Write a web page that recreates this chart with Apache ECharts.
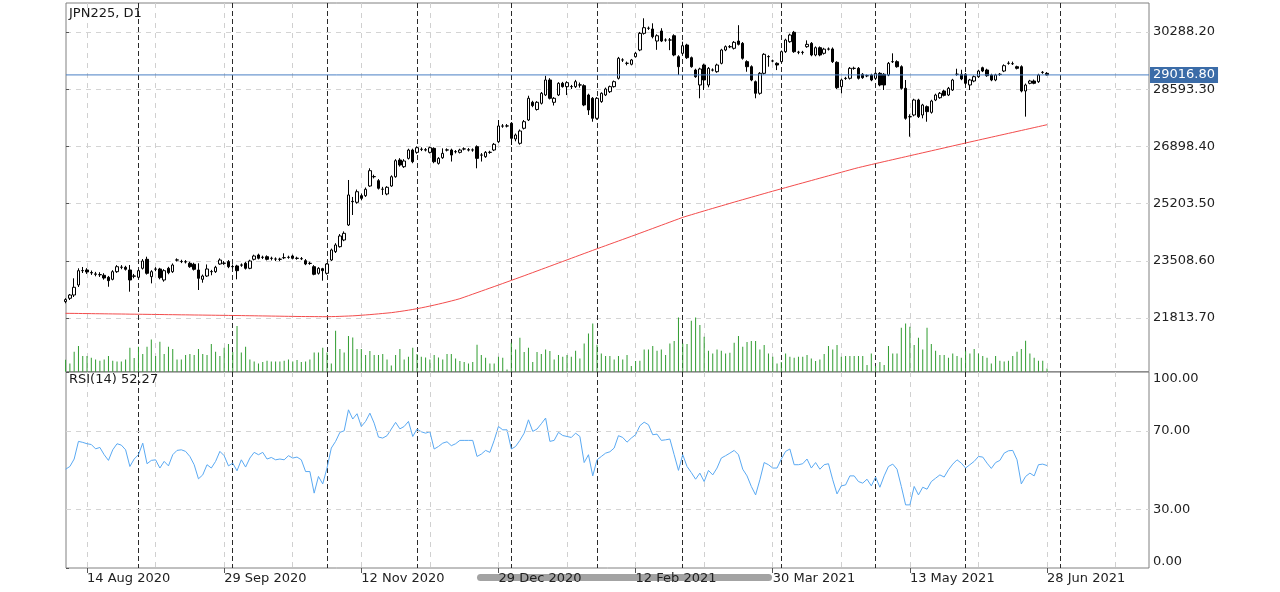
<!DOCTYPE html>
<html><head><meta charset="utf-8">
<script src="https://cdn.jsdelivr.net/npm/echarts@6/dist/echarts.min.js"></script>
<style>html,body{margin:0;padding:0;background:#fff}#c{width:1280px;height:592px}</style>
</head><body><div id="c"></div>
<script>
const symbolName = 'JPN225';
const timeframe = 'D1';
const startDate = '2020-08-07';
const endDate = '2021-07-29';
const closedDays = ['2020-12-25', '2021-01-01'];
const monthNames = ['Jan','Feb','Mar','Apr','May','Jun','Jul','Aug','Sep','Oct','Nov','Dec'];

// [open, close, low, high]
const ohlc = [
[22300,22360,22250,22400],[22398,22495,22347,22525],[22495,22724,22436,22990],[22792,23216,22732,23286],[23216,23220,23147,23325],
[23236,23177,23120,23290],[23160,23150,23090,23220],[23120,23110,23050,23180],[23100,23095,23030,23170],[23079,22999,22950,23140],
[23020,22920,22740,23060],[22960,23186,22930,23230],[23186,23334,23150,23380],[23320,23316,23260,23380],[23316,23257,23220,23360],
[23236,22940,22593,23384],[23050,23060,22990,23120],[23020,23216,22990,23260],[23286,23503,23250,23560],[23553,23138,23100,23630],
[23038,23186,22840,23230],[23260,23265,23200,23320],[23266,23008,22960,23300],[22940,23216,22890,23260],[23286,23156,23110,23330],
[23186,23384,23150,23430],[23530,23535,23490,23580],[23490,23485,23440,23540],[23480,23475,23430,23530],[23435,23334,23300,23480],
[23405,23257,23220,23450],[23236,22990,22643,23435],[22960,23058,22860,23100],[23058,23266,23030,23400],[23190,23186,23080,23240],
[23186,23316,23150,23360],[23414,23532,23390,23580],[23440,23435,23390,23500],[23484,23334,23290,23530],[23340,23334,23280,23400],
[23355,23216,22960,23390],[23380,23385,23330,23430],[23435,23286,23250,23480],[23286,23503,23260,23540],[23553,23651,23520,23690],
[23680,23583,23550,23720],[23610,23613,23560,23660],[23630,23553,23520,23670],[23580,23583,23520,23630],[23560,23562,23500,23610],
[23555,23553,23500,23600],[23600,23602,23560,23730],[23610,23613,23570,23660],[23651,23583,23550,23690],[23585,23580,23540,23630],
[23570,23573,23530,23620],[23513,23414,23380,23560],[23430,23435,23390,23480],[23334,23109,23080,23380],[23138,23286,23100,23320],
[23275,23216,22920,23300],[23138,23414,23100,23440],[23532,23829,23500,23870],[23780,23977,23740,24030],[23927,24244,23900,24300],
[24125,24323,24090,24380],[24570,25459,24540,25903],[25270,25260,24866,25400],[25242,25556,25200,25620],[25438,25360,25300,25500],
[25438,25628,25400,25680],[25725,26179,25700,26250],[26000,26005,25950,26060],[25882,25657,25620,25930],[25630,25628,25460,25700],
[25488,25687,25450,25720],[25725,26000,25700,26040],[26000,26475,25970,26520],[26495,26347,26300,26550],[26297,26466,26260,26520],
[26544,26790,26510,26830],[26790,26445,26400,26830],[26722,26860,26680,26900],[26810,26815,26760,26870],[26800,26790,26750,26850],
[26722,26860,26690,26890],[26840,26445,26400,26870],[26396,26544,26360,26580],[26563,26692,26530,26840],[26790,26795,26750,26840],
[26790,26643,26450,26830],[26740,26745,26690,26790],[26722,26790,26690,26830],[26820,26825,26780,26870],[26800,26790,26750,26850],
[26790,26795,26740,26840],[26890,26544,26250,26930],[26640,26643,26450,26700],[26594,26722,26560,26760],[26720,26725,26680,26770],
[26792,26960,26760,27000],[27038,27503,27000,27680],[27500,27503,27450,27560],[27503,27505,27460,27560],[27583,27138,26940,27620],
[27118,27236,27050,27280],[26990,27355,26950,27400],[27435,27631,27400,27680],[27681,28324,27650,28400],[28205,28107,28060,28250],
[27993,28205,27960,28240],[28176,28472,28140,28510],[28422,28866,28390,28990],[28866,28324,28290,28920],[28205,28324,28110,28360],
[28422,28768,28390,28800],[28768,28669,28640,28810],[28669,28787,28420,28830],[28670,28672,28600,28720],[28669,28816,28630,28870],
[28720,28718,28640,28790],[28698,28126,28090,28740],[28421,27977,27830,28460],[28324,27731,27630,28360],[27731,28324,27690,28360],
[28225,28472,28190,28500],[28422,28599,28390,28640],[28520,28669,28480,28700],[28669,28816,28640,28850],[28916,29509,28880,29550],
[29460,29459,29400,29510],[29360,29361,29300,29410],[29332,29459,29300,29490],[29557,29656,29530,29700],[29755,30248,29720,30290],
[30248,30416,30210,30694],[30398,30400,30350,30450],[30377,30149,30100,30546],[30021,30178,29760,30220],[30318,30021,29990,30400],
[30050,30051,30000,30100],[30050,30051,29750,30110],[30178,29607,29570,30220],[29557,29260,29014,29600],[29657,29882,29620,30000],
[29903,29527,29490,29940],[29527,29260,29230,29560],[29162,28964,28930,29200],[28718,29192,28324,29230],[29310,28866,28570,29350],
[28718,29212,28650,29250],[29160,29162,29120,29210],[29112,29310,29080,29350],[29360,29755,29330,29790],[29755,29853,29720,29890],
[29850,29853,29810,29900],[29805,29982,29770,30020],[30021,29922,29890,30490],[29952,29509,29470,29990],[29410,29260,29110,29450],
[29260,28866,28830,29300],[28816,28472,28324,28850],[28472,29064,28430,29100],[29064,29627,29030,29660],[29560,29557,29260,29600],
[29430,29429,29390,29470],[29360,29310,29160,29390],[29409,29705,29380,29740],[29705,30051,29670,30090],[30001,30199,29970,30240],
[30279,29705,29670,30320],[29690,29687,29630,29730],[29680,29687,29620,29730],[29853,29922,29820,30040],[29952,29607,29570,29990],
[29607,29823,29570,29860],[29823,29607,29570,29860],[29657,29780,29620,29820],[29780,29785,29740,29830],[29785,29409,29370,29830],
[29390,28638,28600,29420],[28668,28866,28472,28910],[28910,28916,28870,28960],[28916,29212,28880,29250],[29210,29212,29170,29260],
[29212,28916,28880,29250],[29035,28935,28900,29070],[28990,28994,28950,29030],[29014,28866,28830,29050],[28916,29064,28880,29100],
[29064,28718,28680,29100],[29035,28718,28570,29070],[29014,29360,28980,29400],[29410,29409,29370,29656],[29409,29260,29230,29450],
[29260,28620,28580,29300],[28620,27731,27690,28866],[27780,27777,27186,27850],[27829,28273,27790,28310],[28273,27780,27740,28310],
[27829,28126,27730,28160],[28076,27928,27630,28110],[27908,28243,27870,28280],[28273,28421,28240,28460],[28341,28472,28310,28510],
[28540,28412,28380,28580],[28421,28620,28390,28660],[28570,28866,28540,28900],[29035,29036,28990,29200],[29035,28896,28860,29170],
[29035,28768,28720,29070],[28718,28866,28570,28900],[28836,28964,28800,29000],[28964,29132,28930,29170],[29230,29132,29100,29260],
[29162,28994,28960,29200],[29014,28866,28830,29050],[28866,29014,28830,29050],[29030,29036,28990,29070],[29132,29290,29100,29330],
[29360,29361,29320,29420],[29350,29349,29310,29410],[29260,29212,29180,29290],[29260,28540,28500,29300],[28540,28718,27780,28760],
[28768,28836,28740,28870],[28836,28768,28740,28880],[28816,29014,28780,29050],[29090,29093,29050,29130],[29064,29016.8,29000,29100]
];

const sma200 = [
21953,21951,21950,21948,21946,21945,21943,21941,21940,21938,21936,21935,21933,21932,21930,21928,21927,21925,21923,21922,
21920,21918,21917,21915,21913,21912,21910,21908,21907,21905,21903,21902,21900,21898,21897,21895,21893,21892,21890,21888,
21887,21885,21883,21881,21879,21877,21875,21873,21871,21869,21867,21865,21863,21861,21859,21858,21857,21856,21855,21854,
21853,21853,21855,21858,21862,21867,21872,21878,21885,21895,21904,21914,21925,21936,21948,21960,21972,21989,22007,22026,
22046,22067,22090,22115,22141,22168,22196,22225,22255,22286,22318,22351,22386,22430,22475,22520,22565,22610,22655,22700,
22745,22790,22836,22882,22928,22974,23020,23066,23113,23160,23207,23254,23301,23348,23395,23442,23489,23536,23583,23630,
23677,23724,23771,23818,23865,23911,23957,24003,24049,24095,24141,24187,24233,24279,24326,24373,24420,24467,24514,24561,
24608,24655,24702,24749,24796,24835,24873,24911,24949,24987,25025,25062,25099,25136,25173,25210,25247,25284,25320,25356,
25392,25428,25464,25500,25536,25572,25607,25642,25677,25712,25747,25782,25817,25852,25887,25922,25957,25992,26027,26062,
26097,26132,26167,26202,26237,26270,26300,26330,26360,26390,26419,26448,26477,26506,26535,26564,26593,26622,26651,26680,
26709,26738,26767,26796,26825,26854,26883,26912,26941,26970,26999,27028,27057,27085,27114,27142,27171,27199,27228,27256,
27285,27313,27342,27370,27399,27427,27456,27484,27513,27541
];

const volumes = [
1200,830,2000,2570,1570,1570,1400,1230,1100,1230,1570,1100,1030,1030,1230,2400,1370,2500,1770,2500,
3230,1570,3000,1770,2500,2270,1230,1230,1670,1770,1670,2270,1770,1670,2770,2000,1570,2400,2770,1970,
4570,1930,2500,1230,1030,830,970,1100,1030,1030,1030,1100,1230,1030,1170,970,1030,1230,1930,1930,
2400,1930,830,4100,2270,1930,3570,3430,2270,2270,1670,2070,1670,1670,1770,1230,630,1670,2270,1230,
1500,2400,1770,1500,1430,1230,1670,1430,1230,1770,1770,1330,1070,970,830,970,2700,1670,1400,830,
830,1500,1400,230,2900,2230,3400,1970,2400,970,1970,1770,2230,2070,1230,1670,1500,1670,1500,2100,
1330,2830,3830,4830,2700,1830,1570,1570,1230,1570,1230,1670,570,1070,1100,2230,2230,2570,2100,2230,
1670,2830,3070,5430,2830,2770,5100,5430,4670,3500,2100,1830,2230,2100,1830,1900,2900,3570,2500,2970,
3070,3070,2230,2670,1830,1500,830,970,1830,1500,1400,1500,1500,1670,1330,1070,1230,1770,2570,2230,
2670,1500,1570,1570,1570,1570,1570,670,1830,570,970,670,2570,1830,1830,4400,4830,4500,2670,3400,
2230,4400,2770,2100,1670,1670,1400,1830,1570,1400,2100,1830,2270,1830,1570,1400,830,1570,1100,1030,
1100,1570,2000,2270,3100,1830,1400,1100,1100,330
];

const rsi14 = [
50.4,51.8,55.6,64.6,64.1,63.4,63.0,60.8,61.5,57.8,54.9,60.3,63.4,62.7,60.3,51.8,55.6,57.8,63.7,53.2,
54.9,55.2,51.0,54.4,52.1,57.8,60.0,60.3,59.5,56.9,52.7,45.5,47.5,52.7,51.0,54.4,59.5,57.3,52.1,53.5,
49.6,55.2,51.5,56.1,59.0,57.8,59.0,55.6,56.4,55.2,55.6,55.2,57.3,56.1,56.6,55.2,49.2,49.2,38.2,46.7,
42.9,51.0,61.2,64.6,69.2,70.0,80.7,76.0,78.7,72.2,74.8,79.0,73.9,66.8,66.3,67.5,70.9,74.3,71.0,72.2,
74.8,67.1,70.9,69.5,68.8,69.5,60.7,62.0,63.7,64.4,62.4,63.4,65.1,65.1,65.1,65.1,56.9,58.1,60.0,59.0,
65.1,72.2,70.5,70.5,60.7,62.0,65.1,68.8,75.6,69.7,70.9,73.6,76.5,64.6,65.1,69.2,67.6,67.1,66.6,68.8,
67.1,53.8,57.8,47.0,55.2,56.9,58.6,59.3,61.2,67.5,66.6,64.2,66.3,68.0,72.6,74.4,73.1,68.0,68.3,65.1,
65.4,65.8,57.8,49.8,57.8,51.8,48.7,45.3,48.4,44.1,49.8,47.5,51.0,56.1,57.3,58.6,60.0,57.8,50.4,47.0,
41.6,37.3,45.0,53.8,52.7,51.0,51.0,55.6,59.5,60.7,52.7,52.7,53.2,55.6,51.0,53.8,50.4,52.7,53.2,45.0,
37.8,41.9,42.4,47.0,47.0,44.1,43.3,45.3,41.9,46.4,41.2,47.0,51.8,53.0,50.4,41.6,32.2,32.2,41.6,37.3,
41.2,40.2,44.1,45.8,47.5,46.4,50.1,53.0,55.2,53.5,51.0,52.7,54.4,56.9,56.6,53.5,50.8,53.8,54.9,58.6,
59.8,60.0,55.2,42.9,46.7,48.4,47.0,52.7,53.0,52.27
];

const priceTickStart = 20118.8;
const priceTickStep = 1694.9;
const priceTop = 31147.5;
const rsiTicks = [0, 30, 70, 100];
const rsiGuides = [30, 70];

// trading-day categories (weekdays, market closed days removed)
const dates = [];
for (let d = new Date(startDate + 'T00:00:00Z'); d <= new Date(endDate + 'T00:00:00Z'); d.setUTCDate(d.getUTCDate() + 1)) {
  const wd = d.getUTCDay();
  const s = d.toISOString().slice(0, 10);
  if (wd === 0 || wd === 6 || closedDays.includes(s)) continue;
  dates.push(s);
}
const isGridIdx = (i) => i % 16 === 5;
const isLabelIdx = (i) => i % 32 === 5;
const isMonthStart = (i) => i > 0 && dates[i].slice(5, 7) !== dates[i - 1].slice(5, 7);
const fmtDate = (s) => { const p = s.split('-'); return (+p[2]) + ' ' + monthNames[+p[1] - 1] + ' ' + p[0]; };

const FONT = 'DejaVu Sans';
const lastClose = ohlc[ohlc.length - 1][1];
const lastRsi = rsi14[rsi14.length - 1];
const bidColor = '#4a7fc4';

const greyV = { color: '#d0d0d0', type: [5, 5], width: 1 };
const darkV = { color: '#2a2a2a', type: [5, 3], width: 1 };
const frameBorder = '#808080';
const catBase = { type: 'category', data: dates, boundaryGap: false,
  axisLine: { show: false }, axisTick: { show: false }, axisLabel: { show: false }, splitLine: { show: false } };
const hiddenX = (g) => ({ type: 'value', gridIndex: g, min: 0, max: 1, show: false });

// data area (bar spacing) and frame area (border) are separate grids
const dataL = 65.6, dataW = 1080;

const chart = echarts.init(document.getElementById('c'), null, { renderer: 'canvas' });
chart.setOption({
  animation: false,
  backgroundColor: '#fff',
  textStyle: { fontFamily: FONT },
  title: [
    { text: symbolName + ', ' + timeframe, left: 69, top: 7, padding: 0,
      textStyle: { fontSize: 13, fontWeight: 'normal', color: '#1a1a1a', fontFamily: FONT } },
    { text: 'RSI(14) ' + lastRsi.toFixed(2), left: 69, top: 373, padding: 0,
      textStyle: { fontSize: 13, fontWeight: 'normal', color: '#1a1a1a', fontFamily: FONT } }
  ],
  grid: [
    { left: dataL, width: dataW, top: 3, height: 372.2 },                 // 0 price data
    { left: dataL, width: dataW, top: 372, height: 196 },                 // 1 RSI data
    { left: dataL, width: dataW, top: 3, height: 368.7 },                 // 2 volume + verticals
    { left: 66, right: 131, top: 3, height: 372.2 },                      // 3 price scale
    { left: 66, right: 131, top: 372, height: 196, show: true, borderColor: frameBorder, borderWidth: 1, backgroundColor: 'transparent' }, // 4 RSI frame
    { left: 66, right: 131, top: 3, height: 368.7, show: true, borderColor: frameBorder, borderWidth: 1, backgroundColor: 'transparent' }  // 5 main frame
  ],
  xAxis: [
    Object.assign({}, catBase, { gridIndex: 0 }),
    Object.assign({}, catBase, { gridIndex: 2, splitLine: { show: true, interval: isGridIdx, lineStyle: greyV } }),
    Object.assign({}, catBase, { gridIndex: 2, position: 'top', splitLine: { show: true, interval: isMonthStart, lineStyle: darkV } }),
    Object.assign({}, catBase, { gridIndex: 1,
      axisTick: { show: true, interval: isLabelIdx, length: 5, lineStyle: { color: '#555' } },
      axisLabel: { show: true, interval: isLabelIdx, formatter: fmtDate, align: 'left', margin: 4, fontSize: 13, color: '#222', fontFamily: FONT },
      splitLine: { show: true, interval: isGridIdx, lineStyle: greyV } }),
    Object.assign({}, catBase, { gridIndex: 1, position: 'top', splitLine: { show: true, interval: isMonthStart, lineStyle: darkV } }),
    hiddenX(3), hiddenX(4), hiddenX(5)
  ],
  yAxis: [
    { type: 'value', gridIndex: 0, min: priceTickStart, max: priceTop, show: false },
    { type: 'value', gridIndex: 1, min: 0, max: 100, show: false },
    { type: 'value', gridIndex: 2, min: 0, max: 36870, show: false },
    { type: 'value', gridIndex: 3, position: 'right', min: priceTickStart, max: priceTop, interval: priceTickStep,
      axisLine: { show: false },
      axisTick: { show: true, length: 3, lineStyle: { color: '#555' } },
      axisLabel: { showMinLabel: false, showMaxLabel: false, formatter: (v) => v.toFixed(2), margin: 4, fontSize: 13, color: '#222', fontFamily: FONT },
      splitLine: { show: true, showMinLine: false, showMaxLine: false, lineStyle: { color: '#d4d4d4', type: [5, 5], width: 1 } } },
    { type: 'value', gridIndex: 4, position: 'right', min: 0, max: 100,
      axisLine: { show: false },
      axisTick: { show: true, length: 3, customValues: rsiTicks, lineStyle: { color: '#555' } },
      axisLabel: { customValues: rsiTicks, formatter: (v) => v.toFixed(2), margin: 4, fontSize: 13, color: '#222', fontFamily: FONT,
        verticalAlignMinLabel: 'bottom', verticalAlignMaxLabel: 'top' },
      splitLine: { show: false } },
    { type: 'value', gridIndex: 5, min: 0, max: 1, show: false }
  ],
  series: [
    { type: 'candlestick', name: symbolName, xAxisIndex: 0, yAxisIndex: 0, data: ohlc, barWidth: 3,
      itemStyle: { color: '#ffffff', color0: '#000000', borderColor: '#000000', borderColor0: '#000000', borderColorDoji: '#000000', borderWidth: 1 } },
    { type: 'line', name: 'MA(200)', xAxisIndex: 0, yAxisIndex: 0, data: sma200, symbol: 'none',
      lineStyle: { color: '#f24c4c', width: 1 }, z: 3 },
    { type: 'bar', name: 'Volume', xAxisIndex: 1, yAxisIndex: 2, data: volumes, barWidth: 1,
      itemStyle: { color: '#2f9c2f' } },
    { type: 'line', name: 'RSI(14)', xAxisIndex: 3, yAxisIndex: 1, data: rsi14, symbol: 'none',
      lineStyle: { color: '#5aa9f2', width: 1 } },
    // current bid level: a horizontal line across the whole price pane (x domain 0..1)
    { type: 'line', name: 'Bid', xAxisIndex: 5, yAxisIndex: 3, symbol: 'none', z: 4, color: bidColor,
      data: [[0, lastClose], [1, lastClose]],
      itemStyle: { color: bidColor },
      lineStyle: { color: bidColor, width: 1, type: 'solid' },
      endLabel: { show: true, distance: 1, formatter: (p) => p.value[1].toFixed(2),
        backgroundColor: '#3b6ca8', color: '#fff', fontSize: 13, fontFamily: FONT, padding: [2, 3, 1, 3] } },
    { type: 'line', name: 'RSI levels', xAxisIndex: 6, yAxisIndex: 4, data: [], symbol: 'none',
      markLine: { symbol: 'none', silent: true, animation: false, label: { show: false },
        lineStyle: { color: '#d4d4d4', type: [5, 5], width: 1 },
        data: rsiGuides.map((v) => ({ yAxis: v })) } }
  ],
  graphic: [
    { type: 'rect', z: -1, shape: { x: 477, y: 574, width: 295, height: 7, r: 3.5 }, style: { fill: '#a3a3a3' } }
  ]
});
</script></body></html>
